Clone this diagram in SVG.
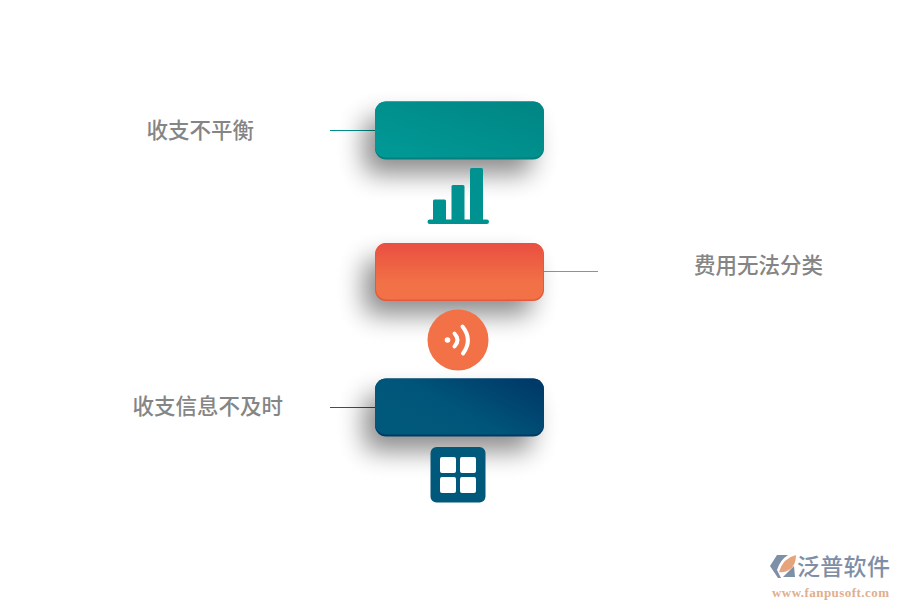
<svg xmlns="http://www.w3.org/2000/svg" width="900" height="600" viewBox="0 0 900 600">
<style>
.lb{font-family:"Noto Sans CJK SC","Liberation Serif",sans-serif;font-size:21.5px;font-weight:500;fill:#858585}
.ln{fill:none;stroke-width:1}
</style>
<defs>
<linearGradient id="g1" x1="0" y1="1" x2="1" y2="0"><stop offset="0" stop-color="#009a97"/><stop offset="1" stop-color="#008583"/></linearGradient>
<linearGradient id="g2" x1="0" y1="0" x2="0" y2="1"><stop offset="0" stop-color="#e94f41"/><stop offset="0.7" stop-color="#f27146"/><stop offset="1" stop-color="#f27146"/></linearGradient>
<linearGradient id="g3" x1="0" y1="0.8" x2="1" y2="0.2"><stop offset="0" stop-color="#00597a"/><stop offset="0.45" stop-color="#00567a"/><stop offset="1" stop-color="#003a69"/></linearGradient>
<filter id="sh" x="-40%" y="-80%" width="180%" height="280%"><feGaussianBlur stdDeviation="13"/></filter>
</defs>
<rect width="900" height="600" fill="#fff"/>
<g id="connectors">
<path class="ln" d="M330 130.500H376" stroke="#008f8d"/>
<path class="ln" d="M543 271.500H598" stroke="#ef7048"/>
<path class="ln" d="M330 407.500H376" stroke="#00668a"/>
</g>
<g id="node-top">
<rect x="364" y="118" width="168" height="56" rx="10" fill="#000" opacity=".45" filter="url(#sh)"/>
<rect x="375" y="101.500" width="169" height="58" rx="11" fill="#00807e"/>
<rect x="375" y="101.500" width="169" height="56" rx="11" fill="url(#g1)"/>
<text class="lb" x="146.500" y="138">收支不平衡</text>
</g>
<g id="icon-bars" fill="#009290">
<rect x="433" y="199.500" width="13" height="22" rx="1.500"/>
<rect x="451.500" y="185" width="13" height="36" rx="1.500"/>
<rect x="470" y="168" width="13" height="53" rx="1.500"/>
<rect x="427.500" y="219.500" width="61.500" height="4.500" rx="2.200"/>
</g>
<g id="node-middle">
<rect x="364" y="259" width="168" height="56" rx="10" fill="#000" opacity=".45" filter="url(#sh)"/>
<rect x="375" y="243" width="169" height="58" rx="11" fill="#e5573f"/>
<rect x="376" y="243" width="167" height="56.500" rx="10" fill="url(#g2)"/>
<text class="lb" x="694" y="273">费用无法分类</text>
</g>
<g id="icon-signal">
<circle cx="458" cy="340" r="30.500" fill="#f27146"/>
<circle cx="447.500" cy="340" r="2.800" fill="#fff"/>
<path d="M454.500 333.500Q460.500 340 454.500 346.500M462.500 326.500Q473 340 463 353.500" fill="none" stroke="#fff" stroke-width="4" stroke-linecap="round"/>
</g>
<g id="node-bottom">
<rect x="364" y="395" width="168" height="56" rx="10" fill="#000" opacity=".45" filter="url(#sh)"/>
<rect x="375" y="378.500" width="169" height="58" rx="11" fill="#003a64"/>
<rect x="375" y="378.500" width="169" height="56" rx="11" fill="url(#g3)"/>
<text class="lb" x="132.500" y="414">收支信息不及时</text>
</g>
<g id="icon-grid">
<rect x="430.500" y="447" width="55" height="55.500" rx="6" fill="#00597a"/>
<g fill="#fff">
<rect x="440" y="457" width="16" height="16" rx="2"/>
<rect x="460" y="457" width="16" height="16" rx="2"/>
<rect x="440" y="477" width="16" height="16" rx="2"/>
<rect x="460" y="477" width="16" height="16" rx="2"/>
</g>
</g>
<g id="logo">
<path d="M777 555H788Q780 560 777 570L781 578H778L770 566Z" fill="#7e8fa8"/>
<path d="M779 572Q783 558 796 555Q796 566 789 570Q784 573 779 572Z" fill="#e6a47c"/>
<path d="M783 577L794 566L795 577Z" fill="#7e8fa8"/>
<text x="797" y="575" font-family="'Noto Sans CJK SC',sans-serif" font-size="23" font-weight="500" letter-spacing="0.300" fill="#7e8ea6">泛普软件</text>
<text x="772" y="597" font-family="'Liberation Serif',serif" font-size="13" font-weight="700" letter-spacing="0.450" fill="#dfae8e">www.fanpusoft.com</text>
</g>
</svg>
